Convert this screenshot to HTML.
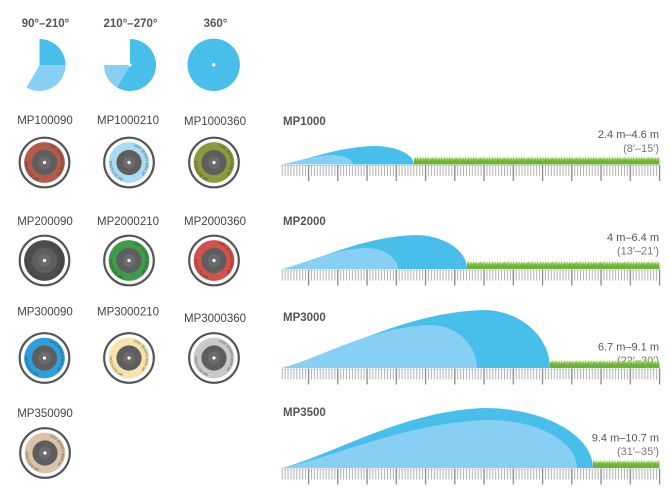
<!DOCTYPE html>
<html><head><meta charset="utf-8"><style>
html,body{margin:0;padding:0;background:#fff;}
svg{display:block;}
text{font-family:"Liberation Sans",sans-serif;}
</style></head><body>
<svg width="670" height="502" viewBox="0 0 670 502" xmlns="http://www.w3.org/2000/svg">
<defs>
  <pattern id="minor" patternUnits="userSpaceOnUse" x="281.7" y="0" width="2.925" height="600">
    <rect x="0" y="0" width="1" height="600" fill="#b2b2b2"/>
  </pattern>
  <pattern id="major" patternUnits="userSpaceOnUse" x="307.9" y="0" width="29.25" height="600">
    <rect x="0" y="0" width="1.3" height="600" fill="#8a8a8a"/>
  </pattern>
  <pattern id="grass" patternUnits="userSpaceOnUse" x="0" y="-10" width="24" height="10">
    <polygon fill="#86c543" points="0,10 0,4 0.6,2 1.2,5 2,1.5 2.6,5 3.4,3 4,5 4.8,0.8 5.4,5 6.2,3 7,5 7.8,2 8.4,5 9.2,3.5 9.8,1.2 10.4,5 11.2,3 12,5 12.8,1 13.4,5 14.2,2.8 15,5 15.8,1.8 16.4,5 17.2,3.6 17.8,1.4 18.4,5 19.2,2.6 20,5 20.8,1.6 21.4,5 22.2,3 23,4.6 24,2.5 24,10"/>
    <polygon fill="#6fb23a" points="0,10 0,6.5 1.5,6 2.5,4 3,6.5 6,6.2 7,4.2 7.6,6.5 11,6.3 12.5,4.5 13,6.6 17,6.2 18.6,4 19.2,6.5 22,6.3 23,4.8 24,6.5 24,10"/>
  </pattern>
  <path id="arcL" d="M -5.8 15.9 A 16.9 16.9 0 0 1 -10.9 -12.9"/>
  <path id="arcR" d="M 4.4 -16.3 A 16.9 16.9 0 0 1 12 11.9"/>
  <g id="nz">
    <circle r="12.6" fill="#5e5e5e"/>
    <circle r="6.2" fill="#6c6c6c"/>
    <circle r="1.6" fill="#fff"/>
    <text font-size="3.4" font-weight="bold" fill="#2e2e2e" fill-opacity="0.55"><textPath href="#arcL">MP ROTATOR</textPath></text>
    <text font-size="3.4" font-weight="bold" fill="#2e2e2e" fill-opacity="0.55"><textPath href="#arcR">1000 SERIES  8006 SP</textPath></text>
  </g>
</defs>

<!-- top icons -->
<g font-size="11.5" font-weight="bold" fill="#555" text-anchor="middle">
  <text x="45.5" y="26.8">90°–210°</text>
  <text x="130.5" y="26.8">210°–270°</text>
  <text x="215.5" y="26.8">360°</text>
</g>
<path d="M39.5 65 L39.5 39 A26 26 0 0 1 65.5 65 Z" fill="#48bfeb"/>
<path d="M39.5 65 L65.5 65 A26 26 0 0 1 26.5 87.5 Z" fill="#88cff4"/>
<path d="M130 65 L130 39 A26 26 0 1 1 117 87.5 Z" fill="#48bfeb"/>
<path d="M130 65 L117 87.5 A26 26 0 0 1 104 65 Z" fill="#88cff4"/>
<circle cx="130" cy="65" r="1.6" fill="#fff"/>
<circle cx="213.7" cy="64.8" r="26.2" fill="#48bfeb"/>
<circle cx="213.7" cy="64.8" r="1.7" fill="#fff"/>

<!-- nozzle labels -->
<g font-size="11.5" fill="#444" text-anchor="middle">
  <text x="45" y="124">MP100090</text>
  <text x="128" y="124">MP1000210</text>
  <text x="215" y="125">MP1000360</text>
  <text x="45" y="225">MP200090</text>
  <text x="128" y="225">MP2000210</text>
  <text x="215" y="225">MP2000360</text>
  <text x="45" y="315.5">MP300090</text>
  <text x="128" y="315.5">MP3000210</text>
  <text x="215" y="322">MP3000360</text>
  <text x="45" y="417">MP350090</text>
</g>

<!-- nozzles -->
<g transform="translate(44.5,162.5)"><circle r="24.8" fill="#fff" stroke="#555" stroke-width="2.2"/><circle r="20.4" fill="#b35a4b"/><use href="#nz"/></g>
<g transform="translate(129,162.5)"><circle r="24.8" fill="#fff" stroke="#555" stroke-width="2.2"/><circle r="20.4" fill="#a8dcf3"/><use href="#nz"/></g>
<g transform="translate(214,162.5)"><circle r="24.8" fill="#fff" stroke="#555" stroke-width="2.2"/><circle r="20.4" fill="#8e983d"/><use href="#nz"/></g>

<g transform="translate(44.5,260.5)"><circle r="24.8" fill="#fff" stroke="#555" stroke-width="2.2"/><circle r="20.4" fill="#4d4d4d"/><use href="#nz"/></g>
<g transform="translate(129,260.5)"><circle r="24.8" fill="#fff" stroke="#555" stroke-width="2.2"/><circle r="20.4" fill="#3f9a4a"/><use href="#nz"/></g>
<g transform="translate(214,260.5)"><circle r="24.8" fill="#fff" stroke="#555" stroke-width="2.2"/><circle r="20.4" fill="#d1514d"/><use href="#nz"/></g>

<g transform="translate(44.5,358)"><circle r="24.8" fill="#fff" stroke="#555" stroke-width="2.2"/><circle r="20.4" fill="#2f9fd9"/><use href="#nz"/></g>
<g transform="translate(129,358)"><circle r="24.8" fill="#fff" stroke="#555" stroke-width="2.2"/><circle r="20.4" fill="#f6e3ab"/><use href="#nz"/></g>
<g transform="translate(214,358)"><circle r="24.8" fill="#fff" stroke="#555" stroke-width="2.2"/><circle r="20.4" fill="#c9c9c9"/><use href="#nz"/></g>

<g transform="translate(45,453)"><circle r="24.8" fill="#fff" stroke="#555" stroke-width="2.2"/><circle r="20.4" fill="#dbc3a7"/><use href="#nz"/></g>

<!-- right charts titles and ranges -->
<g font-size="11.5" font-weight="bold" fill="#555">
  <text x="283" y="125">MP1000</text>
  <text x="283" y="225">MP2000</text>
  <text x="283" y="320.8">MP3000</text>
  <text x="283" y="415.8">MP3500</text>
</g>
<g font-size="11" fill="#555" text-anchor="end">
  <text x="659" y="138">2.4 m–4.6 m</text>
  <text x="659" y="241">4 m–6.4 m</text>
  <text x="659" y="350.7">6.7 m–9.1 m</text>
  <text x="659" y="441.7">9.4 m–10.7 m</text>
</g>
<g font-size="11" fill="#777" text-anchor="end">
  <text x="659" y="152">(8′–15′)</text>
  <text x="659" y="254.7">(13′–21′)</text>
  <text x="659" y="364">(22′–30′)</text>
  <text x="659" y="455">(31′–35′)</text>
</g>

<!-- Row 1 -->
<g transform="translate(0,164.5)">
  <rect x="414" y="-10" width="245.5" height="10" fill="url(#grass)"/>
  <rect x="281.5" y="0.5" width="379" height="1" fill="#d8d8d8"/>
  <rect x="281.5" y="0.5" width="379" height="11" fill="url(#minor)"/>
  <rect x="281.5" y="0.5" width="379" height="16" fill="url(#major)"/>
</g>
<path d="M282 164.5 C306.9 159.9 337.4 146.9 374.4 146 C396.2 146 414 154.3 414 164.5 Z" fill="#48bfeb"/>
<path d="M282 164.5 C295.4 162.1 311.8 155.5 331.7 155 C343.4 155 353 159.3 353 164.5 Z" fill="#88cff4"/>

<!-- Row 2 -->
<g transform="translate(0,269)">
  <rect x="467" y="-10" width="192.5" height="10" fill="url(#grass)"/>
  <rect x="281.5" y="0.5" width="379" height="1" fill="#d8d8d8"/>
  <rect x="281.5" y="0.5" width="379" height="11" fill="url(#minor)"/>
  <rect x="281.5" y="0.5" width="379" height="16" fill="url(#major)"/>
</g>
<path d="M282 269 C317.9 260.5 361.9 236.7 415.2 235 C443.7 235 467 250.3 467 269 Z" fill="#48bfeb"/>
<path d="M282 269 C304.5 263.75 332.1 249 365.5 248 C383.4 248 398 257.45 398 269 Z" fill="#88cff4"/>

<!-- Row 3 -->
<g transform="translate(0,368)">
  <rect x="550" y="-10" width="109.5" height="10" fill="url(#grass)"/>
  <rect x="281.5" y="0.5" width="379" height="1" fill="#d8d8d8"/>
  <rect x="281.5" y="0.5" width="379" height="11" fill="url(#minor)"/>
  <rect x="281.5" y="0.5" width="379" height="16" fill="url(#major)"/>
</g>
<path d="M282 368 C336.3 353.5 402.6 312.9 483 310 C519.9 310 550 336.1 550 368 Z" fill="#48bfeb"/>
<path d="M282 368 C322 357.25 370.9 327.15 430.2 325 C456 325 477 344.35 477 368 Z" fill="#88cff4"/>

<!-- Row 4 -->
<g transform="translate(0,468)">
  <rect x="593" y="-10" width="66.5" height="10" fill="url(#grass)"/>
  <rect x="281.5" y="0.5" width="379" height="1" fill="#d8d8d8"/>
  <rect x="281.5" y="0.5" width="379" height="11" fill="url(#minor)"/>
  <rect x="281.5" y="0.5" width="379" height="16" fill="url(#major)"/>
</g>
<path d="M282 468 C336.6 453 403.3 411 484.2 408 C544 408 593 435 593 468 Z" fill="#48bfeb"/>
<path d="M282 468 C337.8 456 405.9 422.4 488.5 420 C537.2 420 577 441.6 577 468 Z" fill="#88cff4"/>
</svg>
</body></html>
